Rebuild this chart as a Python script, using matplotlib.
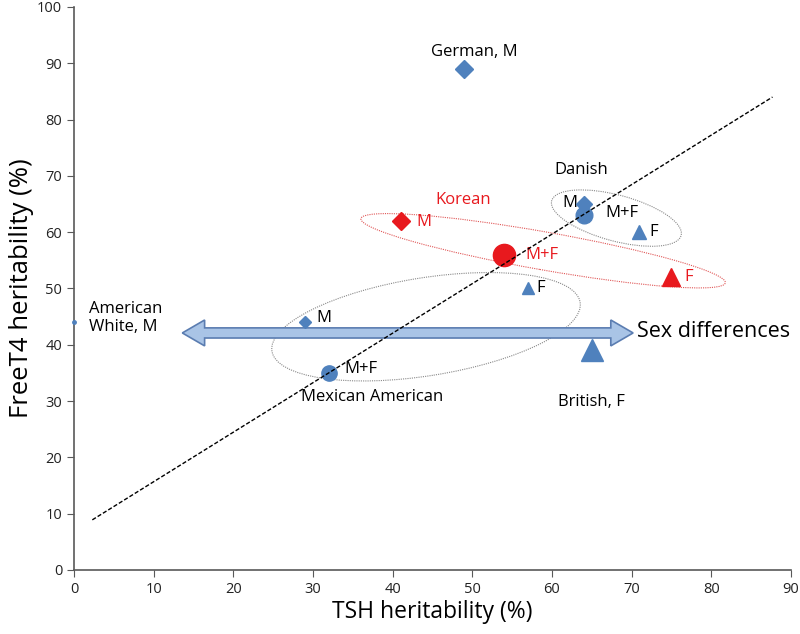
import numpy as np
import matplotlib.pyplot as plt
import matplotlib.transforms as mtransforms
from matplotlib.patches import Ellipse, Polygon

plt.rcParams['font.family'] = ['Open Sans', 'DejaVu Sans']

BLUE = '#4F81BD'
RED = '#E8191E'

# heritability estimates (TSH %, FreeT4 %)
german_m = (49, 89)
danish_tsh = [64, 64, 71]
danish_ft4 = [65, 63, 60]
korean_tsh = [41, 54, 75]
korean_ft4 = [62, 56, 52]
mexican_tsh = [29, 32, 57]
mexican_ft4 = [44, 35, 50]
british_f = (65, 39)
american_white_m = (0, 44)

# trend line ends
trend_x = [2.3, 87.7]
trend_y = [8.9, 84]

fig = plt.figure(figsize=(8, 6.34), dpi=100)
ax = fig.add_axes([0.0925, 0.101, 0.896, 0.888])
ax.set_xlim(0, 90)
ax.set_ylim(0, 100)
ax.set_xticks(range(0, 91, 10))
ax.set_yticks(range(0, 101, 10))
for s in ['top', 'right']:
    ax.spines[s].set_visible(False)
for s in ['left', 'bottom']:
    ax.spines[s].set_color('#595959')
    ax.spines[s].set_linewidth(1.2)
ax.tick_params(direction='out', length=5, color='#595959', labelsize=10.5, labelcolor='#222222')
ax.set_xlabel('TSH heritability (%)', fontsize=16.5, labelpad=2)
ax.set_ylabel('FreeT4 heritability (%)', fontsize=18.5, labelpad=2)

# ellipses drawn in pixel-sized units around a data center
def ring(cx, cy, w, h, ang, color):
    trans = fig.dpi_scale_trans + mtransforms.ScaledTranslation(cx, cy, ax.transData)
    e = Ellipse((0, 0), w, h, angle=ang, transform=trans, fill=False,
                edgecolor=color, linestyle=(0, (1, 1)), linewidth=0.8, zorder=1)
    ax.add_patch(e)

ring(68.1, 62.5, 1.34, 0.46, -15, '#888888')
ring(58.9, 56.7, 3.70, 0.38, -10, '#E05555')
ring(44.2, 43.2, 3.12, 0.98, 9, '#888888')

# trend line (drawn over the markers)
ax.plot(trend_x, trend_y, color='black', linestyle=(0, (3, 1.5)), linewidth=1, zorder=6)

# sex differences arrow
ay, x0, x1 = 42.1, 13.6, 70.2
bh, hh, hl = 0.9, 2.3, 2.8
arrow = Polygon([(x0, ay), (x0 + hl, ay + hh), (x0 + hl, ay + bh), (x1 - hl, ay + bh),
                 (x1 - hl, ay + hh), (x1, ay), (x1 - hl, ay - hh), (x1 - hl, ay - bh),
                 (x0 + hl, ay - bh), (x0 + hl, ay - hh)], closed=True,
                facecolor='#A9C4E6', edgecolor='#5B7DB1', linewidth=1.2, zorder=3)
ax.add_patch(arrow)

# markers
ax.plot(*german_m, marker='D', ms=9, color=BLUE, ls='none', zorder=4)
ax.plot(danish_tsh[1], danish_ft4[1], marker='o', ms=12, color=BLUE, zorder=4)
ax.plot(danish_tsh[0], danish_ft4[0], marker='D', ms=8, color=BLUE, zorder=5)
ax.plot(danish_tsh[2], danish_ft4[2], marker='^', ms=10, color=BLUE, zorder=4)
ax.plot(korean_tsh[0], korean_ft4[0], marker='D', ms=9, color=RED, zorder=4)
ax.plot(korean_tsh[1], korean_ft4[1], marker='o', ms=16, color=RED, zorder=4)
ax.plot(korean_tsh[2], korean_ft4[2], marker='^', ms=13, color=RED, zorder=4)
ax.plot(mexican_tsh[0], mexican_ft4[0], marker='D', ms=6.5, color=BLUE, zorder=4)
ax.plot(mexican_tsh[1], mexican_ft4[1], marker='o', ms=11, color=BLUE, zorder=4)
ax.plot(mexican_tsh[2], mexican_ft4[2], marker='^', ms=9, color=BLUE, zorder=4)
ax.plot(*british_f, marker='^', ms=16, color=BLUE, zorder=4)
ax.plot(*american_white_m, marker='o', ms=2.5, color=BLUE, clip_on=False, zorder=4)

# labels
fs = 12
ax.text(50.3, 92, 'German, M', fontsize=fs, ha='center', va='center')
ax.text(60.3, 71, 'Danish', fontsize=fs, ha='left', va='center')
ax.text(63.2, 65.2, 'M', fontsize=fs, ha='right', va='center')
ax.text(66.7, 63.4, 'M+F', fontsize=fs, ha='left', va='center')
ax.text(72.2, 60, 'F', fontsize=fs, ha='left', va='center')
ax.text(48.9, 65.7, 'Korean', fontsize=fs, color=RED, ha='center', va='center')
ax.text(43, 61.8, 'M', fontsize=fs, color=RED, ha='left', va='center')
ax.text(56.7, 56, 'M+F', fontsize=fs, color=RED, ha='left', va='center')
ax.text(76.6, 52, 'F', fontsize=fs, color=RED, ha='left', va='center')
ax.text(30.4, 44.8, 'M', fontsize=fs, ha='left', va='center')
ax.text(33.9, 35.7, 'M+F', fontsize=fs, ha='left', va='center')
ax.text(58.1, 50, 'F', fontsize=fs, ha='left', va='center')
ax.text(37.4, 30.7, 'Mexican American', fontsize=fs, ha='center', va='center')
ax.text(65, 29.8, 'British, F', fontsize=fs, ha='center', va='center')
ax.text(1.9, 44.8, 'American\nWhite, M', fontsize=fs, ha='left', va='center', linespacing=1.2)
ax.text(70.7, 42.3, 'Sex differences', fontsize=15.5, ha='left', va='center')

fig.savefig('out.png', dpi=100)
